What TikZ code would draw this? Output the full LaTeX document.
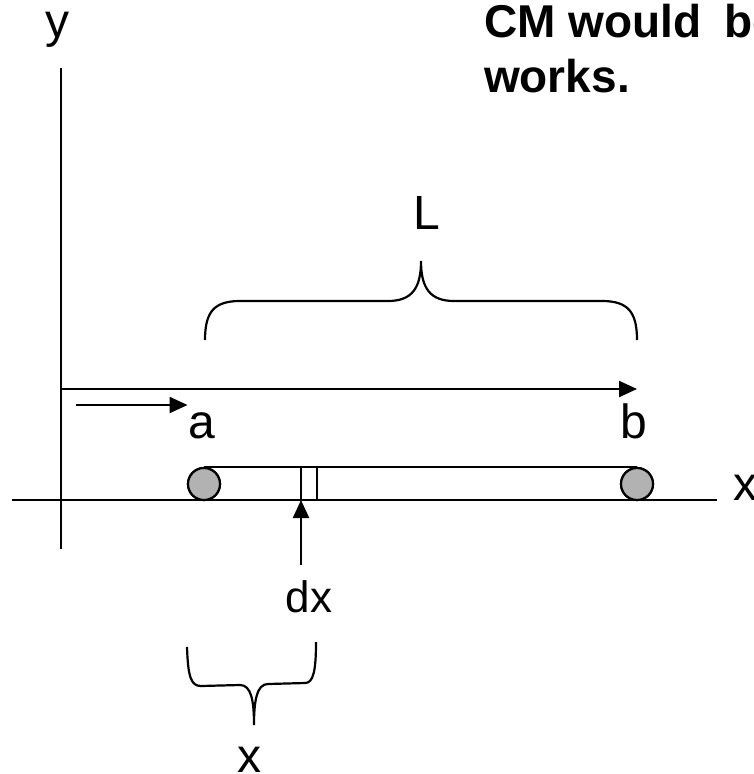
\documentclass[tikz,border=0pt]{standalone}
\usepackage{fontspec}
\setmainfont{Liberation Sans}
\usetikzlibrary{positioning,arrows.meta}
\tikzset{>={Triangle[length=18pt,width=16pt]}}
\tikzset{lbl/.style={font=\fontsize{48}{50}\selectfont, inner sep=0pt, anchor=base},
  ball/.style={draw, circle, fill=black!30, minimum size=32pt, inner sep=0pt},
  note/.style={anchor=base west, inner sep=0pt, font=\fontsize{46}{55}\selectfont\bfseries}}

\begin{document}
\begin{tikzpicture}[x=1pt, y=-1pt, line width=2.2pt]
      \useasboundingbox (0,0) rectangle (753,774);
      \clip (0,0) rectangle (753,774);
      % axes
      \coordinate (O) at (61,500);
      \coordinate[above of=O, node distance=432pt] (ytop);
      \coordinate[below of=O, node distance=49pt] (ybot);
      \coordinate[left of=O, node distance=49pt] (xbot);
      \coordinate[right of=O, node distance=656pt] (xtop);
      \draw (ybot) -- (ytop);
      \draw (xbot) -- (xtop);
      \node[lbl] (ny) at (57,37) {y};
      \node[lbl, anchor=base west] (nx) at (732,500) {x};
      % rod
      \node[ball] (cL) at (204,484) {};
      \node[ball, right of=cL, node distance=433pt] (cR) {};
      \draw (cL.north) -- (cR.north);
      \node[ball] at (cL) {};
      \node[ball] at (cR) {};
      \coordinate (s1) at (301,500);
      \coordinate (s2) at (317,500);
      \draw (s1) -- (s1 |- cL.north);
      \draw (s2) -- (s2 |- cL.north);
      \node[lbl] (na) at (202,438) {a};
      \node[lbl] (nb) at (634,438) {b};
      % arrows
      \coordinate (aux1) at (61,389);
      \draw[->] (aux1) -- (aux1 -| cR);
      \coordinate (aux2) at (76,405);
      \draw[->] (aux2) -- (aux2 -| na.west);
      \coordinate[below of=s1, node distance=65pt] (aux3);
      \draw[->] (aux3) -- (s1);
      \node[lbl, font=\fontsize{44}{46}\selectfont] (ndx) at (309,612) {dx};
      % braces
      \draw (205,340) .. controls (205,312) and (214,301) .. (240,301) -- (388,301)
            .. controls (412,301) and (421,288) .. (421,261)
            .. controls (421,288) and (430,301) .. (454,301) -- (602,301)
            .. controls (628,301) and (637,312) .. (637,340);
      \node[lbl] (nL) at (427,229) {L};
      \draw (187,647) .. controls (188,677) and (191,686) .. (201,686) -- (240,685)
            .. controls (251,685) and (254,700) .. (254,725)
            .. controls (254,700) and (257,684) .. (268,684) -- (305,683)
            .. controls (313,683) and (316,672) .. (316,642);
      \node[lbl] (nxx) at (249,772) {x};
      % note
      \node[note] (nCM) at (483,37) {CM would \hspace{10pt}be};
      \node[note] (nworks) at (483,92) {works.};
\end{tikzpicture}
\end{document}
